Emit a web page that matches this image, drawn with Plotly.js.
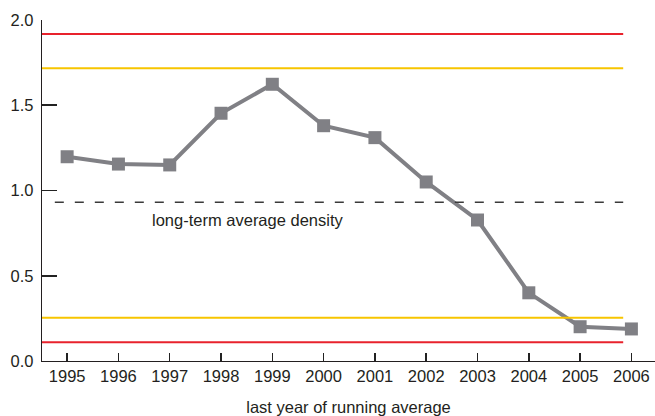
<!DOCTYPE html>
<html>
<head>
<meta charset="utf-8">
<script src="https://cdn.plot.ly/plotly-3.0.1.min.js"></script>
<style>html,body{margin:0;padding:0;background:#fff}#chart{width:655px;height:416px}</style>
</head>
<body>
<div id="chart"></div>
<script>
const years = [1995,1996,1997,1998,1999,2000,2001,2002,2003,2004,2005,2006];
const density = [1.198,1.155,1.150,1.453,1.623,1.380,1.310,1.050,0.827,0.400,0.201,0.188];
const redLevels = [1.918, 0.110];
const yellowLevels = [1.717, 0.254];
const longTermAverage = 0.931;
const avgLabel = "long-term average density";
const xTitle = "last year of running average";
const yTicks = [0, 0.5, 1.0, 1.5, 2.0];
const yTickText = ["0.0","0.5","1.0","1.5","2.0"];

const textColor = "#231f20";
const xStart = 1994.51, xEnd = 2006.46, lineEnd = 2005.84;

const shapes = [];
redLevels.forEach(v => shapes.push({type:'line', xref:'x', x0:xStart, x1:lineEnd, yref:'y', y0:v, y1:v, line:{color:'#e8222c', width:2}}));
yellowLevels.forEach(v => shapes.push({type:'line', xref:'x', x0:xStart, x1:lineEnd, yref:'y', y0:v, y1:v, line:{color:'#f7c500', width:2}}));
shapes.push({type:'line', xref:'x', x0:1994.76, x1:lineEnd, yref:'y', y0:longTermAverage, y1:longTermAverage, line:{color:'#3a3a3a', width:1.3, dash:'9px,11px'}});

const data = [{
  x: years, y: density, type:'scatter', mode:'lines+markers',
  line:{color:'#808085', width:4},
  marker:{symbol:'square', size:13, color:'#808085'},
  hoverinfo:'none', cliponaxis:false
}];

const layout = {
  width:655, height:416,
  margin:{l:42, r:0, t:20, b:55},
  paper_bgcolor:'#fff', plot_bgcolor:'#fff',
  showlegend:false,
  font:{family:'Liberation Sans, Arial, sans-serif', color:textColor},
  xaxis:{
    range:[xStart, xEnd], tickmode:'array', tickvals:years, ticktext:years.map(String),
    ticks:'inside', ticklen:8, tickwidth:1.5, tickcolor:'#222',
    showline:true, linecolor:textColor, linewidth:1.3,
    showgrid:false, zeroline:false,
    tickfont:{size:16.5, color:textColor},
    title:{text:xTitle, font:{size:16.5, color:textColor}, standoff:18}
  },
  yaxis:{
    range:[0, 2], tickmode:'array', tickvals:yTicks, ticktext:yTickText,
    ticks:'inside', ticklen:15, tickwidth:1.6, tickcolor:'#222',
    showline:true, linecolor:textColor, linewidth:1.3,
    showgrid:false, zeroline:false,
    tickfont:{size:16.5, color:textColor},
    ticklabelstandoff:4
  },
  shapes: shapes,
  annotations:[{
    xref:'x', yref:'y', x:1998.53, y:0.827, text:avgLabel, showarrow:false,
    font:{size:16.5, color:textColor}, xanchor:'center', yanchor:'middle'
  }]
};

Plotly.newPlot('chart', data, layout, {staticPlot:true, displayModeBar:false});
</script>
</body>
</html>
